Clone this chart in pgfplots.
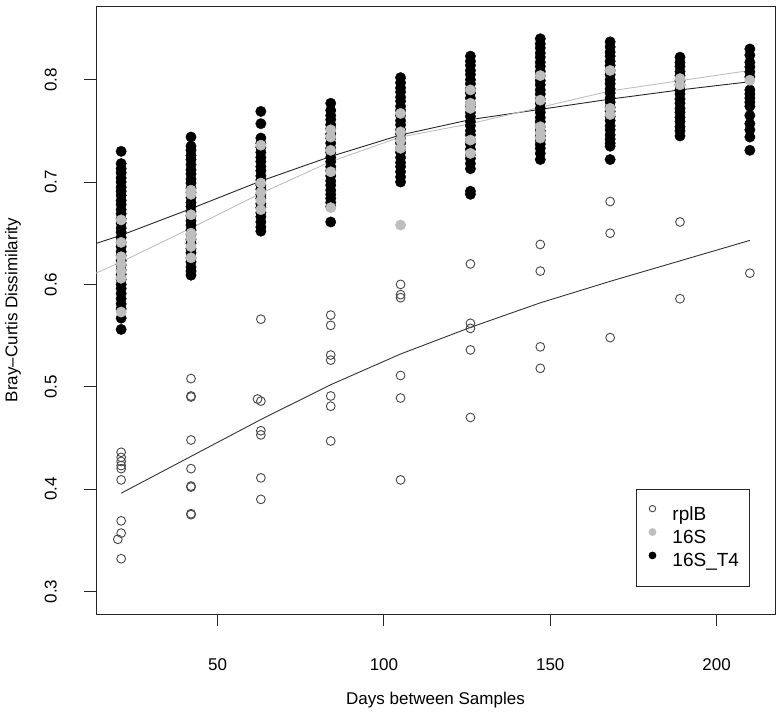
\documentclass[border=0pt]{standalone}
\usepackage{pgfplots}
\pgfplotsset{compat=1.18}
\usepackage{pgfplotstable}
\usepackage{fontspec}
\setmainfont{Liberation Sans}
\definecolor{greyR}{RGB}{190,190,190}
\definecolor{circR}{RGB}{70,70,70}

% rplB (open circles)
\pgfplotstableread{
x y
21 0.436
21 0.431
21 0.427
21 0.423
21 0.420
21 0.409
21 0.369
21 0.357
20 0.351
21 0.332
42 0.508
42 0.491
42 0.490
42 0.448
42 0.420
42 0.403
42 0.402
42 0.376
42 0.375
63 0.566
62 0.488
63 0.486
63 0.457
63 0.453
63 0.411
63 0.390
84 0.570
84 0.560
84 0.531
84 0.526
84 0.491
84 0.481
84 0.447
105 0.600
105 0.590
105 0.587
105 0.511
105 0.489
105 0.409
126 0.620
126 0.562
126 0.557
126 0.536
126 0.470
147 0.639
147 0.613
147 0.539
147 0.518
168 0.681
168 0.650
168 0.548
189 0.661
189 0.586
210 0.611
}\rplB

% 16S (grey filled)
\pgfplotstableread{
x y
21 0.663
21 0.641
21 0.627
21 0.620
21 0.613
21 0.606
21 0.573
42 0.692
42 0.688
42 0.668
42 0.650
42 0.645
42 0.637
42 0.626
63 0.736
63 0.699
63 0.690
63 0.682
63 0.673
84 0.751
84 0.744
84 0.731
84 0.710
84 0.675
105 0.767
105 0.749
105 0.741
105 0.733
105 0.658
126 0.790
126 0.777
126 0.772
126 0.741
126 0.728
147 0.804
147 0.780
147 0.754
147 0.748
147 0.743
168 0.809
168 0.772
168 0.766
189 0.801
189 0.795
210 0.7995
}\sixteenS

% 16S_T4 (black filled)
\pgfplotstableread{
x y
21 0.730
21 0.718
21 0.713
21 0.709
21 0.704
21 0.700
21 0.695
21 0.691
21 0.687
21 0.682
21 0.678
21 0.673
21 0.669
21 0.664
21 0.660
21 0.655
21 0.651
21 0.646
21 0.641
21 0.637
21 0.632
21 0.628
21 0.623
21 0.619
21 0.614
21 0.610
21 0.605
21 0.600
21 0.596
21 0.591
21 0.586
21 0.581
21 0.576
21 0.567
21 0.556
42 0.744
42 0.735
42 0.731
42 0.726
42 0.722
42 0.717
42 0.712
42 0.708
42 0.703
42 0.699
42 0.694
42 0.690
42 0.685
42 0.680
42 0.676
42 0.671
42 0.667
42 0.662
42 0.658
42 0.653
42 0.649
42 0.644
42 0.640
42 0.635
42 0.631
42 0.626
42 0.622
42 0.617
42 0.613
42 0.609
63 0.769
63 0.757
63 0.743
63 0.738
63 0.734
63 0.729
63 0.724
63 0.720
63 0.715
63 0.711
63 0.706
63 0.702
63 0.697
63 0.693
63 0.688
63 0.684
63 0.679
63 0.675
63 0.670
63 0.666
63 0.661
63 0.656
63 0.652
84 0.777
84 0.770
84 0.765
84 0.761
84 0.756
84 0.752
84 0.747
84 0.743
84 0.738
84 0.733
84 0.729
84 0.724
84 0.720
84 0.715
84 0.711
84 0.706
84 0.701
84 0.697
84 0.692
84 0.688
84 0.684
84 0.680
84 0.676
84 0.661
105 0.802
105 0.797
105 0.792
105 0.788
105 0.783
105 0.779
105 0.774
105 0.770
105 0.765
105 0.760
105 0.756
105 0.751
105 0.747
105 0.742
105 0.738
105 0.733
105 0.729
105 0.724
105 0.719
105 0.715
105 0.710
105 0.705
105 0.700
126 0.823
126 0.818
126 0.814
126 0.809
126 0.805
126 0.800
126 0.796
126 0.791
126 0.787
126 0.782
126 0.777
126 0.773
126 0.768
126 0.764
126 0.759
126 0.755
126 0.750
126 0.746
126 0.741
126 0.737
126 0.732
126 0.727
126 0.723
126 0.718
126 0.713
126 0.691
126 0.688
147 0.840
147 0.835
147 0.831
147 0.826
147 0.822
147 0.817
147 0.813
147 0.808
147 0.804
147 0.799
147 0.795
147 0.790
147 0.786
147 0.781
147 0.777
147 0.772
147 0.768
147 0.763
147 0.759
147 0.754
147 0.750
147 0.745
147 0.741
147 0.737
147 0.733
147 0.728
147 0.722
168 0.837
168 0.832
168 0.827
168 0.823
168 0.818
168 0.814
168 0.809
168 0.805
168 0.800
168 0.796
168 0.791
168 0.787
168 0.782
168 0.778
168 0.773
168 0.769
168 0.764
168 0.760
168 0.755
168 0.751
168 0.746
168 0.742
168 0.738
168 0.735
168 0.722
189 0.822
189 0.817
189 0.813
189 0.808
189 0.804
189 0.799
189 0.795
189 0.790
189 0.786
189 0.781
189 0.777
189 0.772
189 0.768
189 0.763
189 0.759
189 0.754
189 0.750
189 0.745
210 0.830
210 0.824
210 0.817
210 0.8125
210 0.8076
210 0.8027
210 0.790
210 0.786
210 0.782
210 0.778
210 0.774
210 0.765
210 0.757
210 0.751
210 0.744
210 0.731
}\sixteenST

\begin{document}
\begin{tikzpicture}
\useasboundingbox (0pt,0pt) rectangle (781pt,714pt);
\begin{axis}[
  at={(96pt,100pt)}, anchor=south west,
  width=679pt, height=608pt, scale only axis,
  xmin=13.44, xmax=217.56, ymin=0.278, ymax=0.872,
  xtick={50,100,150,200},
  ytick={0.3,0.4,0.5,0.6,0.7,0.8},
  tick pos=left, tick align=outside, major tick length=12pt,
  font=\fontsize{17}{20}\selectfont,
  /pgf/number format/assume math mode=true,
  yticklabel style={rotate=90, anchor=south, inner xsep=0pt, inner ysep=27pt,
    /pgf/number format/fixed, /pgf/number format/fixed zerofill,
    /pgf/number format/precision=1},
  xticklabel style={anchor=north, inner xsep=0pt, inner ysep=32pt},
  axis line style={line width=0.9pt, black!85},
  every tick/.style={line width=0.9pt, black!85},
  xlabel={Days between Samples},
  ylabel={Bray\textendash Curtis Dissimilarity},
  xlabel style={at={(axis description cs:0.5,-0.1414)}, anchor=center},
  ylabel style={at={(axis description cs:-0.1222,0.5)}, anchor=center},
  legend style={at={(axis description cs:0.7953,0.2056)}, anchor=north west,
    draw=black!85, line width=0.9pt, fill=white,
    font=\fontsize{19}{22}\selectfont,
    inner xsep=10pt, inner ysep=16pt, row sep=4.5pt,
    nodes={inner sep=0pt, text height=14pt, text depth=4pt}},
  legend cell align=left,
  legend image code/.code={\path[draw=none,fill=none] (0pt,0pt) -- (26pt,0pt);
    \draw[#1] plot coordinates {(6pt,6.5pt)};},
]
\addlegendimage{only marks, mark=o, mark size=3.2pt, mark options={draw=circR, line width=0.9pt}}
\addlegendentry{rplB}
\addlegendimage{only marks, mark=*, mark size=3.4pt, mark options={draw=greyR, fill=greyR}}
\addlegendentry{16S}
\addlegendimage{only marks, mark=*, mark size=3.4pt, mark options={draw=black, fill=black}}
\addlegendentry{16S\_T4}

\addplot[forget plot, only marks, mark=o, mark size=4.4pt, mark options={draw=circR, line width=0.9pt}] table[x=x,y=y] {\rplB};
\addplot[forget plot, only marks, mark=*, mark size=5.2pt, mark options={draw=black, fill=black}] table[x=x,y=y] {\sixteenST};
\addplot[forget plot, only marks, mark=*, mark size=5.2pt, mark options={draw=greyR, fill=greyR}] table[x=x,y=y] {\sixteenS};

% fitted curves
\addplot[forget plot, no marks, line width=0.9pt, black!80] coordinates {
 (21,0.396) (42,0.432) (63,0.468) (84,0.502) (105,0.532) (126,0.558) (147,0.582) (168,0.603) (189,0.623) (210,0.643)};
\addplot[forget plot, no marks, line width=0.9pt, black!85] coordinates {
 (13.44,0.640) (21,0.648) (42,0.674) (63,0.701) (84,0.725) (105,0.746) (126,0.761) (147,0.771) (168,0.781) (189,0.790) (210,0.798)};
\addplot[forget plot, no marks, line width=0.9pt, greyR] coordinates {
 (13.44,0.611) (21,0.622) (42,0.655) (63,0.689) (84,0.720) (105,0.744) (126,0.757) (147,0.773) (168,0.789) (189,0.799) (210,0.809)};
\end{axis}
\end{tikzpicture}
\end{document}
